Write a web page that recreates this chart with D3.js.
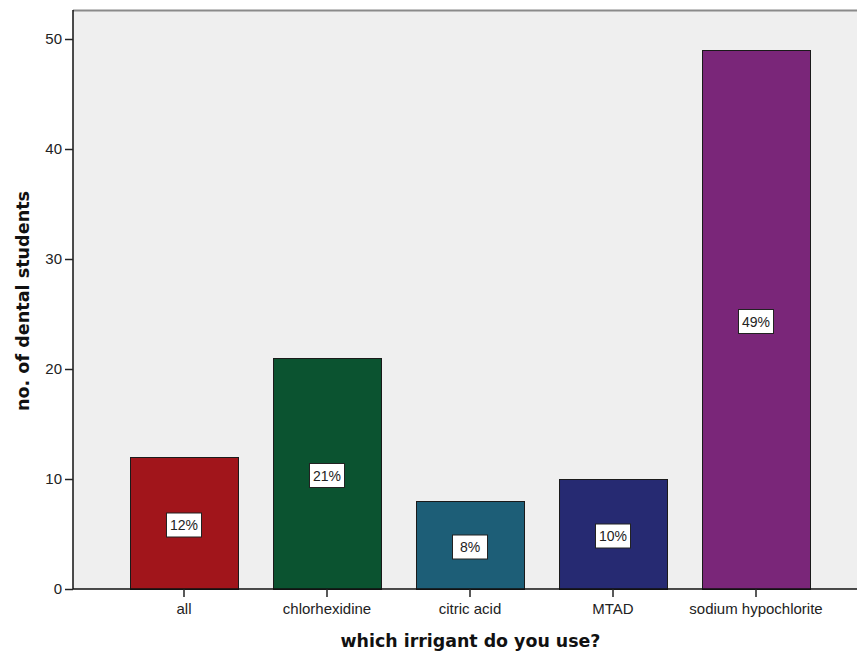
<!DOCTYPE html>
<html><head><meta charset="utf-8">
<script src="https://cdn.jsdelivr.net/npm/d3@7"></script>
<style>body{margin:0;background:#fff}svg{display:block}</style>
</head><body>
<script>
const categories = ["all","chlorhexidine","citric acid","MTAD","sodium hypochlorite"];
const counts = [12,21,8,10,49];
const percentLabels = ["12%","21%","8%","10%","49%"];
const colors = ["#a1151b","#0b5330","#1d5e77","#262a72","#7a2679"];
const yTicks = [0,10,20,30,40,50];

(function(){
const W=857,H=654;
const svg=d3.select("body").append("svg").attr("width",W).attr("height",H);
const mLeft=73,mRight=867,mTop=10,mBottom=589;
const x=d3.scaleBand().domain(categories).range([mLeft,mRight]).paddingInner(0.2448).paddingOuter(0.3986);
const y=d3.scaleLinear().domain([0,50]).range([mBottom,39]);

svg.append("rect").attr("x",mLeft).attr("y",mTop).attr("width",mRight-mLeft).attr("height",mBottom-mTop).attr("fill","#efefef");
svg.append("line").attr("x1",mLeft).attr("x2",W).attr("y1",mTop+0.5).attr("y2",mTop+0.5).attr("stroke","#8a8a8a").attr("stroke-width",2);

svg.selectAll("rect.bar").data(categories).join("rect").attr("class","bar")
  .attr("x",d=>x(d)+0.5).attr("y",(d,i)=>y(counts[i])+0.5)
  .attr("width",x.bandwidth()).attr("height",(d,i)=>mBottom-y(counts[i]))
  .attr("fill",(d,i)=>colors[i]).attr("stroke","#1a1a1a").attr("stroke-width",1);

const lab=svg.selectAll("g.lab").data(categories).join("g").attr("class","lab")
  .attr("transform",(d,i)=>`translate(${x(d)+x.bandwidth()/2},${(y(counts[i])+mBottom)/2+2})`);
lab.append("rect").attr("x",-17.5).attr("y",-12).attr("width",35).attr("height",24).attr("fill","#fff").attr("stroke","#222").attr("stroke-width",1);
lab.append("text").attr("text-anchor","middle").attr("dy","0.36em").attr("font-family","Liberation Sans, Arial, sans-serif").attr("font-size",14).attr("fill","#222").text((d,i)=>percentLabels[i]);

const yAxis=svg.append("g").attr("transform",`translate(${mLeft},0)`)
  .call(d3.axisLeft(y).tickValues(yTicks).tickSize(8).tickPadding(3).tickFormat(d3.format("d")));
const xAxis=svg.append("g").attr("transform",`translate(0,${mBottom})`)
  .call(d3.axisBottom(x).tickSize(8).tickPadding(6));
[yAxis,xAxis].forEach(a=>{
  a.selectAll("text").attr("font-family","Liberation Sans, Arial, sans-serif").attr("font-size",15).attr("fill","#222");
  a.selectAll("line").attr("stroke","#222").attr("stroke-width",1.5);
  a.select(".domain").attr("stroke","#111").attr("stroke-width",1.5);
});
xAxis.select(".domain").attr("d",`M${mLeft},0H${W}`);
yAxis.select(".domain").attr("d",`M0,${mTop}V${mBottom}`);

svg.append("text").attr("x",470.5).attr("y",647).attr("text-anchor","middle")
  .attr("font-family","DejaVu Sans, Verdana, sans-serif").attr("font-weight","bold").attr("font-size",17.4).attr("fill","#111")
  .text("which irrigant do you use?");
svg.append("text").attr("transform","translate(29,301) rotate(-90)").attr("text-anchor","middle")
  .attr("font-family","DejaVu Sans, Verdana, sans-serif").attr("font-weight","bold").attr("font-size",17.6).attr("fill","#111")
  .text("no. of dental students");
})();
</script>
</body></html>
